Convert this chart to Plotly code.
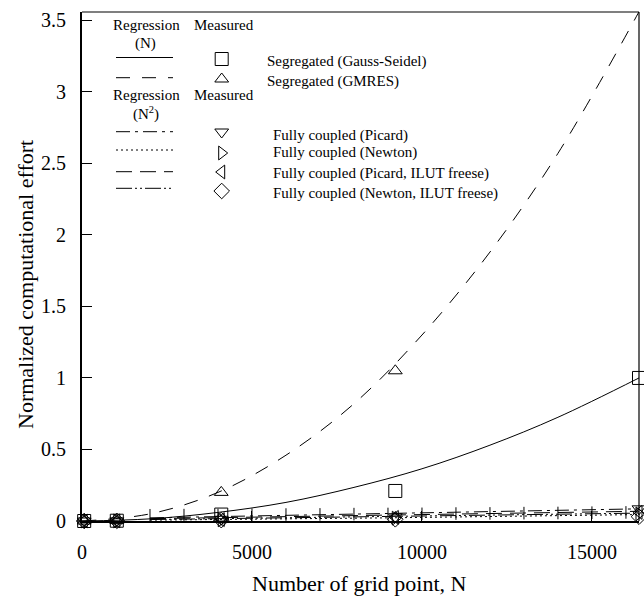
import plotly.graph_objects as go

# ---------------- data ----------------
grid_n = [64, 1024, 4096, 9216, 16384]

meas_gs = [0.0, 0.002, 0.045, 0.21, 1.0]
meas_gmres = [0.0, 0.003, 0.20, 1.05, 3.56]
meas_picard = [0.0, 0.001, 0.012, 0.03, 0.085]
meas_newton = [0.0, 0.001, 0.008, 0.02, 0.05]
meas_picard_ilut = [0.0, 0.001, 0.010, 0.025, 0.06]
meas_newton_ilut = [0.0, 0.001, 0.006, 0.012, 0.03]

reg_n = [0, 2000, 4000, 6000, 8000, 10000, 12000, 14000, 16384]
reg_gs = [0.0, 0.015, 0.06, 0.13, 0.235, 0.365, 0.53, 0.725, 1.0]
reg_gmres = [0.0, 0.05, 0.20, 0.46, 0.82, 1.30, 1.88, 2.57, 3.56]

fc_n = [2000, 9000, 16384]
reg_picard = [0.022, 0.052, 0.085]
reg_picard_ilut = [0.016, 0.040, 0.068]
reg_newton_ilut = [0.010, 0.030, 0.055]
reg_newton = [0.006, 0.022, 0.045]

tick_n = [2000, 3000, 4000, 5000, 6000, 7000, 8000, 9000, 10000,
          11000, 12000, 13000, 14000, 15000, 16000]
tick_y = [0.040, 0.041, 0.042, 0.044, 0.045, 0.046, 0.048, 0.049, 0.050,
          0.052, 0.053, 0.055, 0.056, 0.058, 0.060]

x_ticks = [0, 5000, 10000, 15000]
x_tick_text = ["0", "5000", "10000", "15000"]
y_ticks = [0, 0.5, 1, 1.5, 2, 2.5, 3, 3.5]
y_tick_text = ["0", "0.5", "1", "1.5", "2", "2.5", "3", "3.5"]

labels = ["Segregated (Gauss-Seidel)", "Segregated (GMRES)",
          "Fully coupled (Picard)", "Fully coupled (Newton)",
          "Fully coupled (Picard, ILUT freese)",
          "Fully coupled (Newton, ILUT freese)"]

# ---------------- styles ----------------
FONT = "Liberation Serif, Times New Roman, serif"
symbols = ["square-open", "triangle-up-open", "triangle-down-open",
           "triangle-right-open", "triangle-left-open", "diamond-open"]
msizes = [13, 12, 12, 12, 12, 12]
dashes = ["solid", "14px,12px", "14px,5px,3px,5px", "2px,3px",
          "16px,8px", "16px,3px,2px,3px,2px,3px"]

W, H = 644, 596
L, R, T, B = 82, 5, 12, 75
PW, PH = W - L - R, H - T - B


def px(xp):
    return (xp - L) / PW


def py(yp):
    return (H - B - yp) / PH


fig = go.Figure()

# regression curves
reg_series = [(reg_n, reg_gs, dashes[0], "spline"),
              (reg_n, reg_gmres, dashes[1], "spline"),
              (fc_n, reg_picard, dashes[2], "linear"),
              (fc_n, reg_newton, dashes[3], "linear"),
              (fc_n, reg_picard_ilut, dashes[4], "linear"),
              (fc_n, reg_newton_ilut, dashes[5], "linear")]
for xs, ys, d, shp in reg_series:
    fig.add_trace(go.Scatter(x=xs, y=ys, mode="lines",
                             line=dict(color="black", width=1, dash=d, shape=shp),
                             showlegend=False, hoverinfo="skip"))

fig.add_trace(go.Scatter(x=tick_n, y=tick_y, mode="markers",
                         marker=dict(symbol="line-ns-open", size=9, color="black",
                                     line=dict(color="black", width=1)),
                         showlegend=False, hoverinfo="skip"))

# measured points
meas = [meas_gs, meas_gmres, meas_picard, meas_newton, meas_picard_ilut, meas_newton_ilut]
for ys, sym, sz in zip(meas, symbols, msizes):
    fig.add_trace(go.Scatter(x=grid_n, y=ys, mode="markers", cliponaxis=False,
                             marker=dict(symbol=sym, size=sz, color="black",
                                         line=dict(color="black", width=1)),
                             showlegend=False))

# ---------------- hand-made legend (overlay axes in 0..1) ----------------
row_line_y = [57.5, 77.7, 131.7, 150, 171.7, 188.3]
row_mark_y = [59, 79, 132, 153, 172, 191]
row_text_y = [61, 81, 135, 153, 173, 193]
text_x = [265, 265, 271, 271, 271, 271]
for i in range(6):
    fig.add_trace(go.Scatter(x=[px(116), px(173)], y=[py(row_line_y[i])] * 2,
                             xaxis="x2", yaxis="y2", mode="lines",
                             line=dict(color="black", width=1, dash=dashes[i]),
                             showlegend=False, hoverinfo="skip"))
    fig.add_trace(go.Scatter(x=[px(221.7)], y=[py(row_mark_y[i])],
                             xaxis="x2", yaxis="y2", mode="markers",
                             marker=dict(symbol=symbols[i], size=msizes[i], color="black",
                                         line=dict(color="black", width=1)),
                             showlegend=False, hoverinfo="skip"))

annotations = []
for i in range(6):
    annotations.append(dict(x=px(text_x[i]), y=py(row_text_y[i]), xref="paper", yref="paper",
                            text=labels[i], showarrow=False, xanchor="left", yanchor="middle",
                            font=dict(family=FONT, size=15, color="black")))
for hy in [25, 95]:
    annotations.append(dict(x=px(146.7), y=py(hy), xref="paper", yref="paper", text="Regression",
                            showarrow=False, xanchor="center", yanchor="middle",
                            font=dict(family=FONT, size=15, color="black")))
    annotations.append(dict(x=px(224), y=py(hy), xref="paper", yref="paper", text="Measured",
                            showarrow=False, xanchor="center", yanchor="middle",
                            font=dict(family=FONT, size=15, color="black")))
annotations.append(dict(x=px(145.7), y=py(43), xref="paper", yref="paper", text="(N)",
                        showarrow=False, xanchor="center", yanchor="middle",
                        font=dict(family=FONT, size=15, color="black")))
annotations.append(dict(x=px(146), y=py(113), xref="paper", yref="paper", text="(N<sup>2</sup>)",
                        showarrow=False, xanchor="center", yanchor="middle",
                        font=dict(family=FONT, size=15, color="black")))

# axis titles
annotations.append(dict(x=px(359), y=py(583), xref="paper", yref="paper",
                        text="Number of grid point, N", showarrow=False,
                        xanchor="center", yanchor="middle",
                        font=dict(family=FONT, size=22, color="black")))
annotations.append(dict(x=px(25), y=py(285), xref="paper", yref="paper",
                        text="Normalized computational effort", showarrow=False, textangle=-90,
                        xanchor="center", yanchor="middle",
                        font=dict(family=FONT, size=22, color="black")))

fig.update_layout(
    width=W, height=H,
    margin=dict(l=L, r=R, t=T, b=B, autoexpand=False),
    paper_bgcolor="white", plot_bgcolor="white",
    font=dict(family=FONT, color="black"),
    xaxis=dict(range=[0, 16384], tickvals=x_ticks, ticktext=x_tick_text, ticks="inside",
               ticklen=10, tickcolor="black", showline=True, linewidth=2, linecolor="black",
               showgrid=False, zeroline=False, tickfont=dict(family=FONT, size=20),
               ticklabelstandoff=12),
    yaxis=dict(range=[0, 3.558], tickvals=y_ticks, ticktext=y_tick_text, ticks="inside",
               ticklen=10, tickcolor="black", showline=True, linewidth=2, linecolor="black",
               showgrid=False, zeroline=False, tickfont=dict(family=FONT, size=20),
               ticklabelstandoff=10),
    xaxis2=dict(overlaying="x", range=[0, 1], visible=False),
    yaxis2=dict(overlaying="y", range=[0, 1], visible=False),
    annotations=annotations,
    shapes=[dict(type="line", xref="paper", yref="paper", x0=0, x1=1, y0=1, y1=1,
                 line=dict(color="black", width=1.2)),
            dict(type="line", xref="paper", yref="paper", x0=1, x1=1, y0=0, y1=1,
                 line=dict(color="black", width=1.2))],
)

fig.write_html("out.html", config={"displayModeBar": False},
               post_script="document.body.style.margin='0px';")
